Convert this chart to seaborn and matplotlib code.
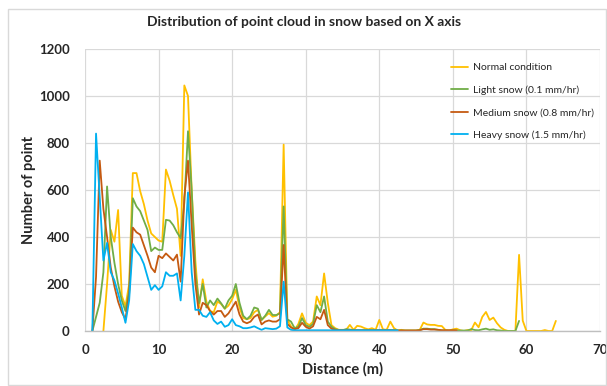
import numpy as np
import pandas as pd
import matplotlib
matplotlib.use("Agg")
import matplotlib.pyplot as plt
import seaborn as sns
from matplotlib.patches import Rectangle

nan = np.nan
distance = np.arange(1.0, 64.01, 0.5)

normal = [
    nan, nan, nan, 0, 200, 430, 380, 515, 150, 105,
    200, 672, 672, 595, 540, 470, 415, 400, 385, 380,
    687, 640, 578, 520, 320, 1045, 1000, 600, 300, 100,
    220, 125, 85, 80, 125, 115, 95, 108, 135, 175,
    100, 55, 50, 55, 80, 90, 47, 62, 76, 61,
    65, 80, 793, 47, 20, 5, 30, 75, 35, 25,
    40, 147, 110, 245, 120, 25, 12, 5, 5, 5,
    26, 5, 22, 19, 12, 7, 12, 5, 47, 7,
    5, 40, 12, 2, 5, 2, 2, 2, 2, 5,
    36, 28, 26, 26, 22, 21, 4, 2, 7, 10,
    3, 0, 4, 4, 36, 16, 60, 81, 47, 57,
    33, 15, 5, 0, 0, 0, 324, 44, 0, 0,
    0, 0, 0, 4, 0, 0, 43,
]
light = [
    0, 60, 120, 250, 615, 400, 290, 200, 130, 85,
    170, 565, 530, 510, 470, 430, 340, 355, 345, 345,
    473, 470, 450, 420, 395, 545, 850, 600, 250, 118,
    200, 100, 130, 110, 138, 118, 95, 130, 150, 200,
    120, 65, 50, 65, 100, 95, 47, 65, 90, 68,
    68, 75, 530, 50, 40, 12, 18, 55, 25, 18,
    30, 110, 80, 147, 40, 18, 8, 4, 3, 8,
    6, 3, 3, 3, 3, 3, 3, 3, 4, 3,
    3, 4, 3, 2, 2, 2, 2, 2, 2, 4,
    10, 10, 8, 8, 5, 3, 2, 2, 2, 2,
    2, 2, 2, 8, 4, 3, 7, 10, 5, 7,
    3, 2, 0, 0, 0, 0, 43, nan, nan, nan,
    nan, nan, nan, nan, nan, nan, nan,
]
medium = [
    0, 230, 725, 520, 400, 270, 190, 125, 80, 50,
    160, 440, 420, 410, 365, 320, 270, 250, 320, 310,
    330, 315, 300, 325, 210, 570, 725, 450, 200, 70,
    120, 110, 85, 70, 85, 85, 60, 75, 100, 125,
    70, 40, 33, 40, 60, 70, 28, 40, 45, 40,
    40, 50, 366, 30, 15, 8, 12, 35, 18, 10,
    20, 60, 50, 90, 25, 10, 5, 3, 3, 3,
    3, 3, 3, 3, 3, 3, 3, 3, 3, 3,
    3, 3, 3, 2, 2, 2, 2, 2, 2, 3,
    8, 8, 6, 6, 5, 3, 3, 3, 3, 3,
    nan, nan, nan, nan, nan, nan, nan, nan, nan, nan,
    nan, nan, nan, nan, nan, nan, nan, nan, nan, nan,
    nan, nan, nan, nan, nan, nan, nan,
]
heavy = [
    0, 840, 570, 300, 375, 250, 215, 160, 100, 35,
    130, 370, 340, 320, 285, 230, 175, 195, 175, 190,
    250, 235, 235, 245, 130, 320, 590, 250, 90, 90,
    65, 60, 80, 45, 30, 40, 18, 25, 50, 25,
    20, 12, 12, 15, 20, 12, 5, 12, 10, 8,
    10, 20, 210, 15, 5, 3, 3, 3, 3, 3,
    3, 3, 3, 3, 3, 3, 3, 3, 3, 3,
    3, 3, 3, 3, 3, 3, 3, 3, 3, 3,
    3, 3, 3, 3, nan, nan, nan, nan, nan, nan,
    nan, nan, nan, nan, nan, nan, nan, nan, nan, nan,
    nan, nan, nan, nan, nan, nan, nan, nan, nan, nan,
    nan, nan, nan, nan, nan, nan, nan, nan, nan, nan,
    nan, nan, nan, nan, nan, nan, nan,
]

labels = ["Normal condition", "Light snow (0.1 mm/hr)",
          "Medium snow (0.8 mm/hr)", "Heavy snow (1.5 mm/hr)"]
series = [normal, light, medium, heavy]
colors = ["#FFC000", "#70AD47", "#C55A11", "#00B0F0"]

frames = []
for lab, vals in zip(labels, series):
    frames.append(pd.DataFrame({"Distance": distance, "Count": vals, "Condition": lab}))
df = pd.concat(frames, ignore_index=True).dropna()

sns.set_style("white")
plt.rcParams["font.family"] = ["Lato", "DejaVu Sans"]

fig = plt.figure(figsize=(6.07, 3.86), dpi=100)
ax = fig.add_axes([85/607, 1-331/386, (600-85)/607, (331-49)/386])

sns.lineplot(data=df, x="Distance", y="Count", hue="Condition",
             hue_order=labels, palette=dict(zip(labels, colors)),
             estimator=None, sort=True, linewidth=1.3, ax=ax)

ax.set_xlim(0, 70)
ax.set_ylim(0, 1200)
ax.set_xticks(range(0, 71, 10))
ax.set_yticks(range(0, 1201, 200))
ax.grid(True, color="#D9D9D9", linewidth=0.9)
ax.set_axisbelow(True)
for s in ["top", "right", "left"]:
    ax.spines[s].set_visible(False)
ax.spines["bottom"].set_color("#BFBFBF")
ax.spines["bottom"].set_linewidth(1.0)
ax.tick_params(axis="x", length=0, labelsize=9.5, pad=9)
ax.tick_params(axis="y", length=0, labelsize=9.5, pad=11)
for t in ax.get_xticklabels() + ax.get_yticklabels():
    t.set_fontweight("bold")

ax.set_xlabel("Distance (m)", fontsize=10.5, fontweight="bold", labelpad=5)
ax.set_ylabel("Number of point", fontsize=10.5, fontweight="bold", labelpad=2)
fig.text(304/607, 1-22/386, "Distribution of point cloud in snow based on X axis",
         ha="center", va="center", fontsize=10, fontweight="bold")

leg = ax.legend(loc="upper left", bbox_to_anchor=(447/607, 1-59/386),
                bbox_transform=fig.transFigure, frameon=False, fontsize=7.5,
                handlelength=1.6, handletextpad=0.45, labelspacing=1.25,
                borderaxespad=0)
for line in leg.get_lines():
    line.set_linewidth(1.3)

fig.patches.append(Rectangle((8/607, 1/386), 598/607, 376/386, transform=fig.transFigure,
                             fill=False, edgecolor="#D9D9D9", linewidth=1.0))

fig.savefig("out.png", dpi=100)
